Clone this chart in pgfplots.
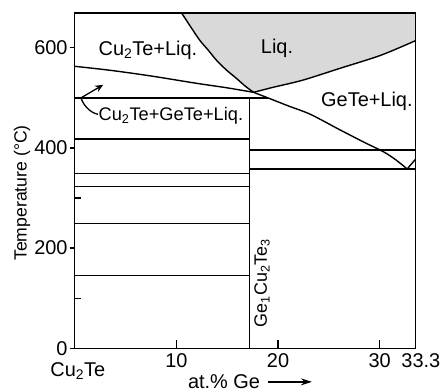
\documentclass[border=0pt]{standalone}
\usepackage{fontspec}
\setmainfont{Liberation Sans}
\usepackage{pgfplots}
\pgfplotsset{compat=1.18}
\usetikzlibrary{arrows.meta}

\definecolor{liqgray}{RGB}{217,217,217}
\tikzset{pl/.style={black, line width=1.4pt, mark=none}}

\begin{document}
\begin{tikzpicture}[font=\fontsize{20}{24}\selectfont]
\begin{axis}[
  at={(0,0)}, anchor=south west,
  scale only axis, width=340.6bp, height=335.6bp,
  xmin=0, xmax=33.5, ymin=0, ymax=670,
  clip=false, axis on top,
  axis line style={line width=1.6pt},
  tickpos=left,
  tick style={line width=1.3pt, black},
  tick align=outside,
  major tick length=5bp,
  xtick=\empty,
  ytick={0,200,400,600},
  extra x ticks={10,20,30,33.5},
  extra x tick labels={10,20,30,\hphantom{0}33.3},
  extra x tick style={tick align=inside, major tick length=8bp},
  extra y ticks={100,300,500},
  extra y tick labels={},
  extra y tick style={tick align=inside, major tick length=6bp},
  xticklabel style={inner sep=0pt, yshift=-5bp},
  yticklabel style={inner sep=0pt, xshift=-2bp},
  /pgf/number format/assume math mode=true,
]

% liquid single-phase field
\addplot[fill=liqgray, draw=none] coordinates {
  (10.5,670) (11.4,642) (12.3,615) (13.1,596) (13.95,575) (14.9,556)
  (15.9,539) (16.8,523) (17.6,511) (19.5,521) (21.2,529) (22.8,537.5)
  (26.1,559) (30.1,585) (33.5,614) (33.5,670)};

% liquidus of the liquid field
\addplot[pl, smooth] coordinates {
  (10.5,670) (11.4,642) (12.3,615) (13.1,596) (13.95,575) (14.9,556)
  (15.9,539) (16.8,523) (17.6,511)};
\addplot[pl, smooth] coordinates {
  (17.6,511) (19.5,521) (21.2,529) (22.8,537.5) (26.1,559) (30.1,585) (33.5,614)};

% Cu2Te and GeTe liquidus
\addplot[pl, smooth] coordinates {
  (0,563) (3.5,555) (7.4,544) (12,529) (15,520) (17.6,511)};
\addplot[pl, smooth] coordinates {
  (17.6,511) (19,500) (21,484) (23.2,467) (26.1,436) (28.5,411)
  (30.4,392) (31.6,376) (32.7,358)};
\addplot[pl] coordinates {(32.7,358) (33.5,377)};

% invariant lines, Cu2Te side
\addplot[pl] coordinates {(0,500) (19,500)};
\addplot[pl] coordinates {(0,418) (17.2,418)};
\addplot[pl] coordinates {(0,348.5) (17.2,348.5)};
\addplot[pl] coordinates {(0,322.6) (17.2,322.6)};
\addplot[pl] coordinates {(0,248.8) (17.2,248.8)};
\addplot[pl] coordinates {(0,145) (17.2,145)};

% invariant lines, GeTe side
\addplot[pl] coordinates {(17.2,396) (33.5,396)};
\addplot[pl] coordinates {(17.2,358) (33.5,358)};

% Ge1Cu2Te3 compound
\addplot[pl] coordinates {(17.2,0) (17.2,500)};

% phase field labels
\node[anchor=base] at (axis cs:7.2,585.5) {Cu\textsubscript{2}Te+Liq.};
\node[anchor=base] at (axis cs:19.9,588.5) {Liq.};
\node[anchor=base] at (axis cs:28.74,483.5) {GeTe+Liq.};
\node[anchor=base, font=\fontsize{18.3}{22}\selectfont] at (axis cs:9.46,454.3)
  {Cu\textsubscript{2}Te+GeTe+Liq.};
\node[anchor=base, rotate=90, font=\fontsize{18}{22}\selectfont] at (axis cs:18.9,130)
  {Ge\textsubscript{1}Cu\textsubscript{2}Te\textsubscript{3}};
\draw[line width=1.3pt, -{Stealth[length=8bp,width=7bp]}]
  (axis cs:2.3,467) .. controls (axis cs:1.4,471) and (axis cs:0.8,488) ..
  (axis cs:0.62,500) -- (axis cs:2.8,526);

% axis titles
\node[anchor=base, rotate=90, font=\fontsize{17.7}{21}\selectfont]
  at ([xshift=-48bp]axis cs:0,310) {Temperature (°C)};
\node[anchor=base] at (axis cs:0.3,-56.6) {Cu\textsubscript{2}Te};
\node[anchor=base] at (axis cs:14.69,-81) {at.\% Ge};
\draw[line width=1.3pt, -{Stealth[length=11bp,width=7bp]}]
  (axis cs:19.04,-67) -- (axis cs:23.33,-67);
\end{axis}
\pgfresetboundingbox
\path[use as bounding box] (-74.7bp,-43.7bp) rectangle (368.3bp,348.3bp);
\end{tikzpicture}
\end{document}
